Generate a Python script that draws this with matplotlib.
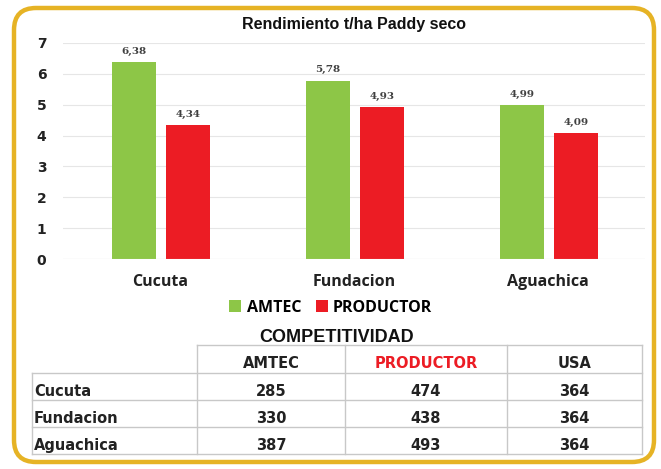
import matplotlib.pyplot as plt
import numpy as np
from matplotlib.patches import FancyBboxPatch

# chart data
sites = ["Cucuta", "Fundacion", "Aguachica"]
amtec = [6.38, 5.78, 4.99]
productor = [4.34, 4.93, 4.09]

# table data
tableCols = ["AMTEC", "PRODUCTOR", "USA"]
tableAmtec = [285, 330, 387]
tableProductor = [474, 438, 493]
tableUsa = [364, 364, 364]

green = "#8DC647"
red = "#EC1C24"
gold = "#E6B325"

W, H = 661, 469
fig = plt.figure(figsize=(W / 100, H / 100), dpi=100)

# overlay in pixel coordinates for the frame and the table
over = fig.add_axes([0, 0, 1, 1])
over.set_xlim(0, W)
over.set_ylim(H, 0)
over.axis("off")
over.add_patch(FancyBboxPatch((14, 8), 640, 454, boxstyle="round,pad=0,rounding_size=22",
                              fc="white", ec=gold, lw=3.2))

# bar chart
ax = fig.add_axes([63 / W, 1 - 259 / H, (645 - 63) / W, (259 - 43) / H])
ax.set_zorder(2)
ax.patch.set_alpha(0)
x = np.arange(len(sites))
w = 0.225
b1 = ax.bar(x - 0.135, amtec, w, color=green)
b2 = ax.bar(x + 0.145, productor, w, color=red)
for bars, vals in [(b1, amtec), (b2, productor)]:
    for rect, v in zip(bars, vals):
        ax.text(rect.get_x() + rect.get_width() / 2, v + 0.2, ("%.2f" % v).replace(".", ","),
                ha="center", va="bottom", fontsize=7.5, fontweight="bold",
                family="DejaVu Serif", color="#404040")
ax.set_xlim(-0.5, 2.5)
ax.set_ylim(0, 7)
ax.set_yticks(range(8))
ax.set_yticklabels([str(i) for i in range(8)], fontsize=10, fontweight="bold",
                   family="DejaVu Sans", color="#222222")
ax.set_xticks(x)
ax.set_xticklabels(sites, fontsize=11.5, fontweight="bold", family="Open Sans", color="#222222")
ax.tick_params(length=0, axis="y", pad=12)
ax.tick_params(length=0, axis="x", pad=11)
ax.grid(axis="y", color="#E6E6E6", lw=0.8)
ax.set_axisbelow(True)
for s in ax.spines.values():
    s.set_visible(False)
ax.axhline(0, color="#D9D9D9", lw=0.8)

ax.set_title("Rendimiento t/ha Paddy seco", fontsize=11.5, fontweight="bold",
             family="Liberation Sans", pad=10, color="#111111")
leg = ax.legend([b1, b2], ["AMTEC", "PRODUCTOR"], loc="center", bbox_to_anchor=(0.46, -0.225),
                ncol=2, frameon=False, handlelength=0.75, handleheight=0.75, columnspacing=0.9,
                handletextpad=0.35, prop={"family": "Open Sans", "weight": "bold", "size": 11.5})

# table
over.text(337, 338, "COMPETITIVIDAD", ha="center", va="center", fontsize=13, fontweight="bold",
          family="Liberation Sans", color="#111111")
colX = [32, 197, 345, 507, 642]
rowY = [345, 373, 400, 427, 454]
lc = "#C8C8C8"
over.plot([colX[1], colX[-1]], [rowY[0], rowY[0]], color=lc, lw=1)
for yy in rowY[1:]:
    over.plot([colX[0], colX[-1]], [yy, yy], color=lc, lw=1)
for i, xx in enumerate(colX):
    top = rowY[1] if i == 0 else rowY[0]
    over.plot([xx, xx], [top, rowY[-1]], color=lc, lw=1)

tf = dict(fontsize=10.5, fontweight="bold", family="DejaVu Sans", va="center")
for j, name in enumerate(tableCols):
    cx = (colX[j + 1] + colX[j + 2]) / 2
    over.text(cx, (rowY[0] + rowY[1]) / 2 + 5, name, ha="center",
              color=red if name == "PRODUCTOR" else "#222222", **tf)
cols = [tableAmtec, tableProductor, tableUsa]
for i, site in enumerate(sites):
    cy = (rowY[i + 1] + rowY[i + 2]) / 2 + 5
    over.text(colX[0] + 2, cy, site, ha="left", color="#222222", **tf)
    for j, col in enumerate(cols):
        cx = (colX[j + 1] + colX[j + 2]) / 2
        over.text(cx, cy, str(col[i]), ha="center", color="#222222", **tf)

fig.savefig("out.png", dpi=100)
